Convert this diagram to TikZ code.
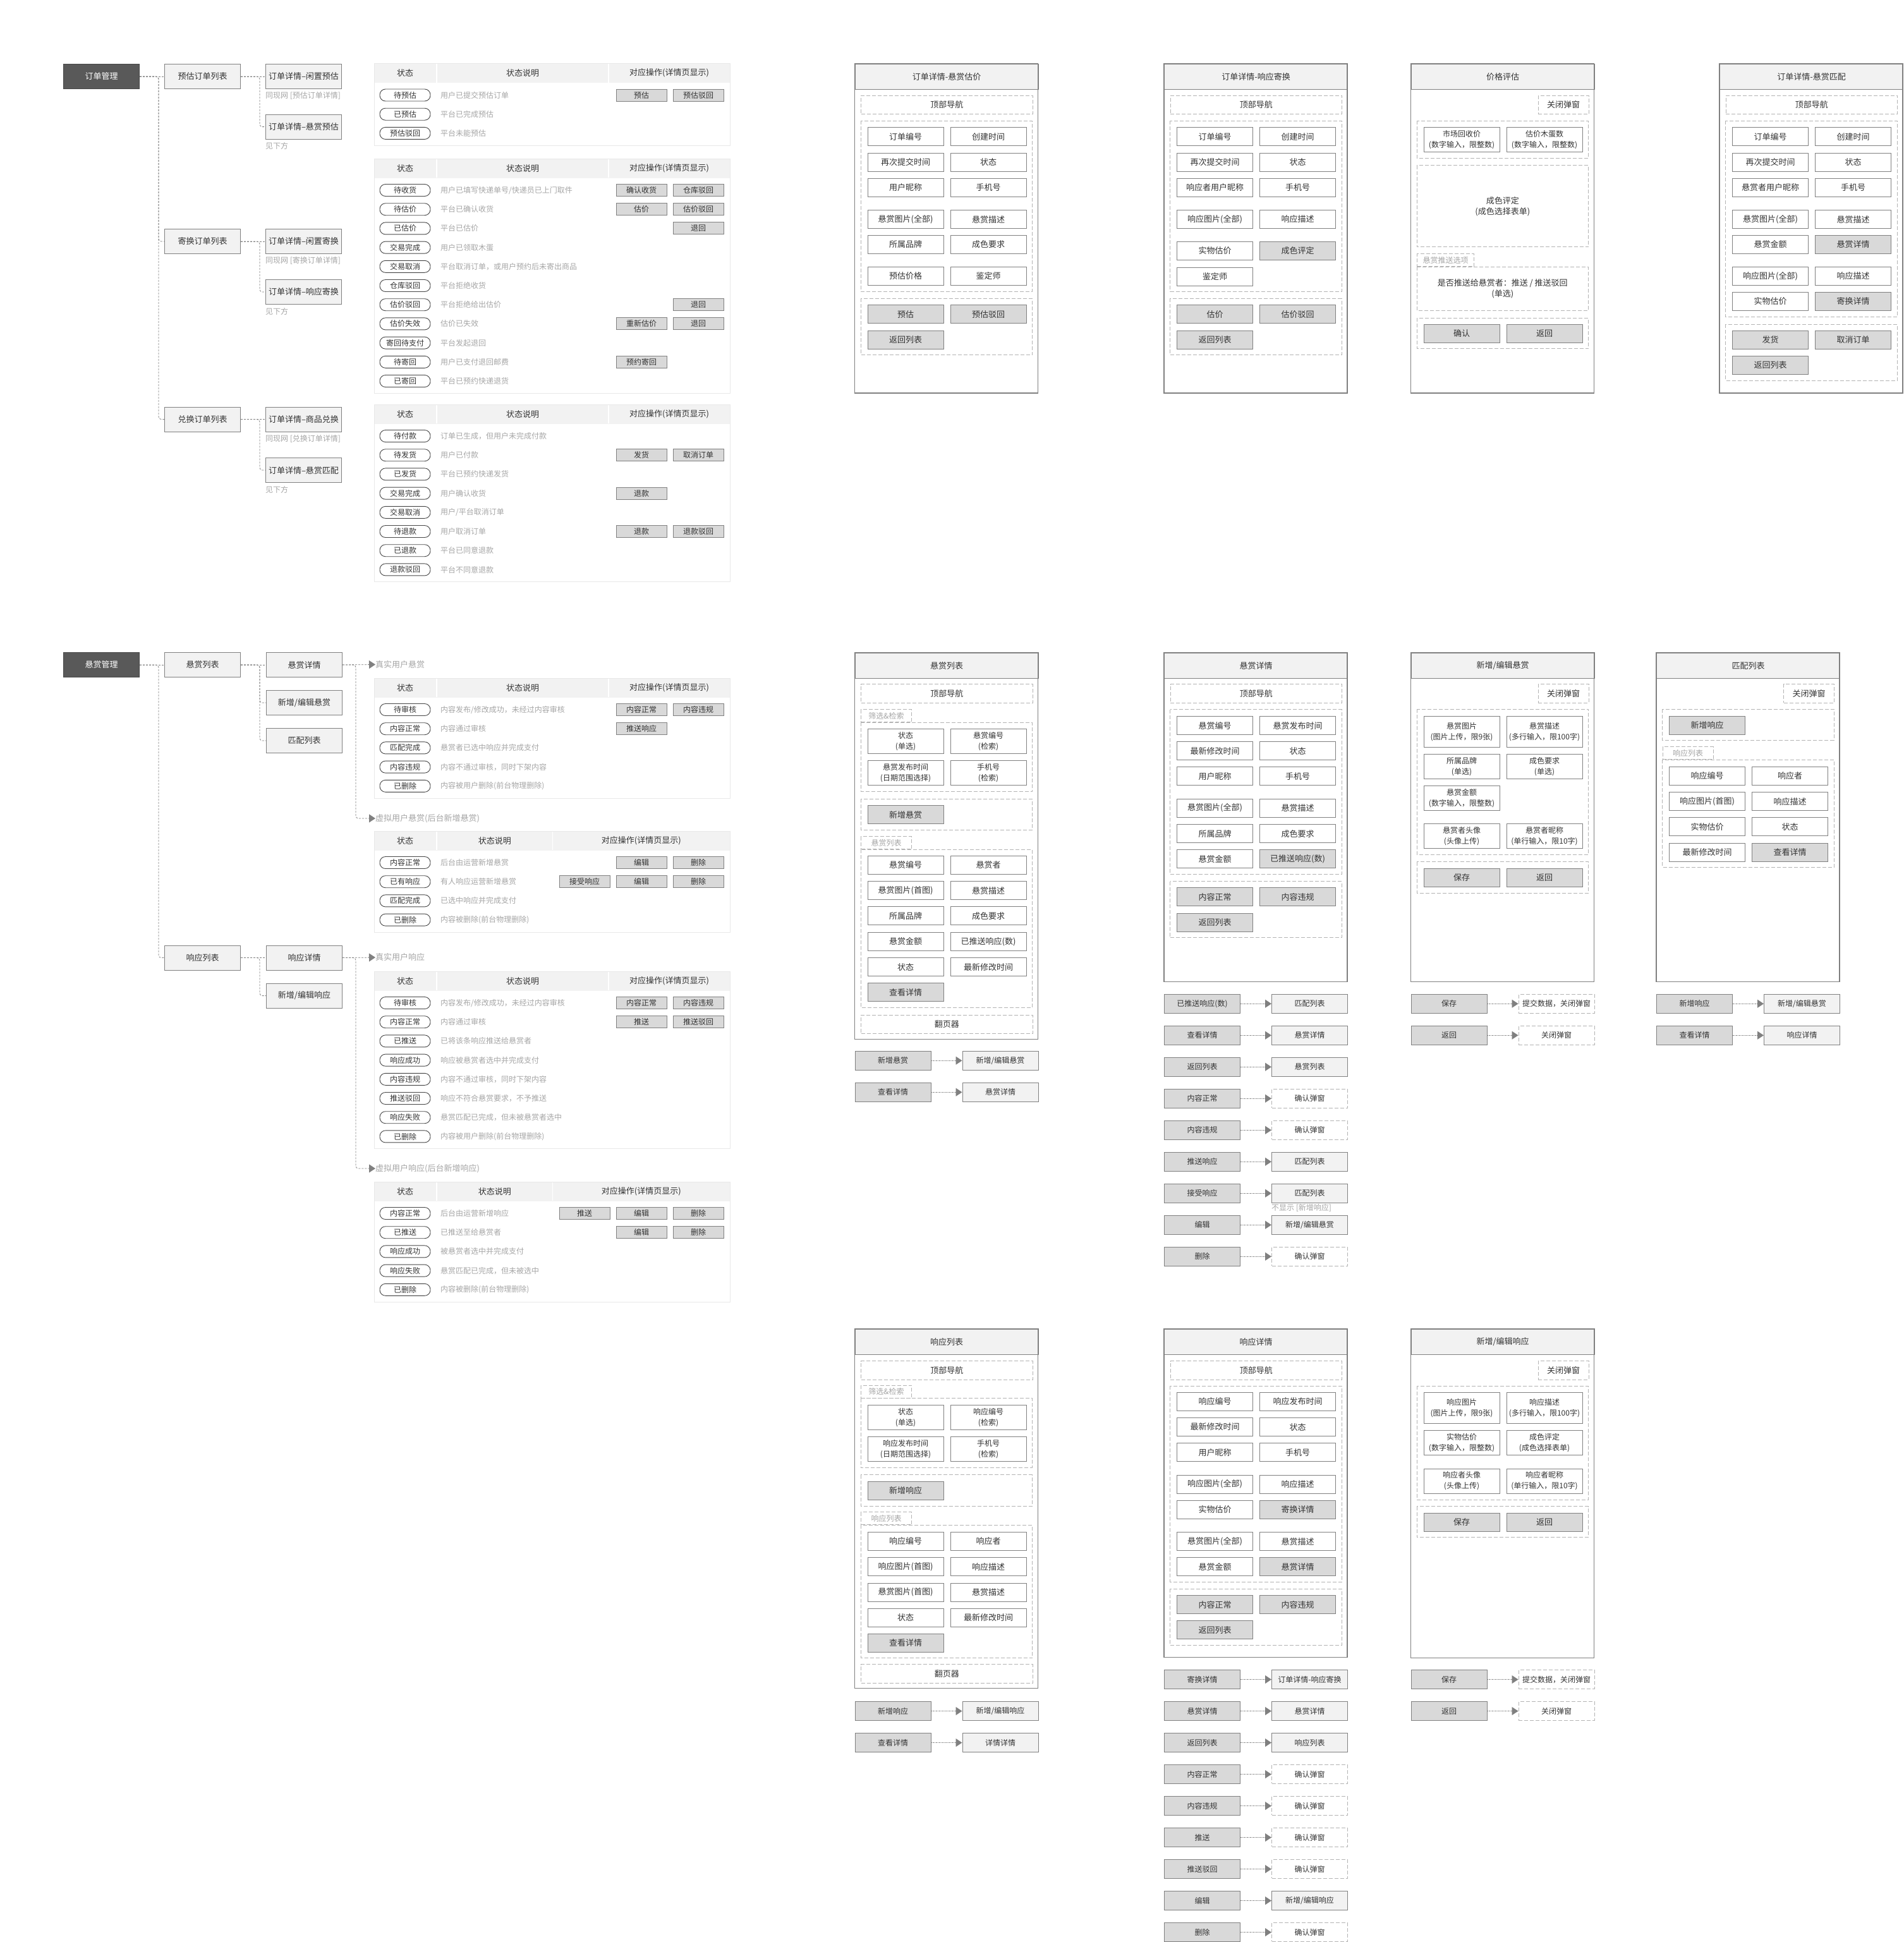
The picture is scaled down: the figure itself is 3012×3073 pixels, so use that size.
\documentclass[tikz,border=0pt]{standalone}
\usepackage{fontspec}
\setmainfont{Noto Sans CJK SC}
\usetikzlibrary{arrows.meta,positioning}

\definecolor{ink}{HTML}{333333}
\definecolor{edge}{HTML}{808080}
\definecolor{dashc}{HTML}{B3B3B3}
\definecolor{pale}{HTML}{F2F2F2}
\definecolor{btn}{HTML}{D9D9D9}
\definecolor{notec}{HTML}{A6A6A6}
\definecolor{dark}{HTML}{595959}
\definecolor{tline}{HTML}{E8E8E8}

\newcommand{\fbody}{\fontsize{13}{17}\selectfont}
\newcommand{\fsmall}{\fontsize{12}{17}\selectfont}

\tikzset{
  every node/.style={text=ink, font=\fbody},
  treebox/.style={draw=edge, line width=1pt, minimum width=120pt, minimum height=39pt, inner sep=0pt, anchor=north west},
  rootbox/.style={treebox, fill=dark, draw=dark!80!black, text=white},
  leafbox/.style={treebox, fill=pale},
  treelink/.style={draw=edge, line width=0.8pt, dash pattern=on 3pt off 2pt, rounded corners=4pt},
  triend/.style={-{Triangle[length=10pt,width=13pt]}},
  memo/.style={text=notec, anchor=west, inner sep=0pt, font=\fsmall},
  pill/.style={draw=ink!90, line width=0.9pt, rounded corners=9pt, fill=white, minimum width=80pt, minimum height=19pt, inner sep=0pt, font=\fsmall},
  actbtn/.style={draw=edge, fill=btn, line width=1pt, minimum width=80pt, minimum height=19pt, inner sep=0pt, font=\fsmall},
  tblframe/.style={draw=tline, line width=1pt},
  scrhead/.style={draw=edge, fill=pale, line width=1.2pt, minimum width=290pt, minimum height=40.5pt, inner sep=0pt, anchor=north west},
  scrframe/.style={draw=edge, line width=1.2pt},
  grpbox/.style={draw=dashc, line width=1pt, dash pattern=on 6pt off 3pt},
  navbox/.style={grpbox, minimum width=271.5pt, minimum height=29.5pt, inner sep=0pt, anchor=north west},
  closebox/.style={grpbox, minimum width=80pt, minimum height=29.5pt, inner sep=0pt, anchor=north west},
  tabbox/.style={grpbox, text=notec, minimum width=80pt, minimum height=20pt, inner sep=0pt, anchor=south west, font=\fsmall},
  fieldbox/.style={draw=edge, fill=white, line width=1pt, minimum width=120pt, minimum height=29pt, inner sep=0pt, anchor=north west, align=center},
  graybtn/.style={fieldbox, fill=btn},
  twoline/.style={fieldbox, minimum height=39pt, font=\fsmall},
  tgtbox/.style={fieldbox, fill=pale, minimum height=29.5pt, font=\fsmall},
  popbox/.style={fieldbox, grpbox, minimum height=29.5pt, font=\fsmall},
  srcbox/.style={graybtn, minimum height=29.5pt, font=\fsmall},
  goline/.style={draw=edge, line width=0.9pt, dash pattern=on 1.5pt off 1pt, triend},
}

\newcommand{\stbl}[5]{%
  \pgfmathsetmacro{\tblbot}{#2+50+30.2*(#4-1)+19.5}
  \path[fill=pale] (592,#2) rectangle (1155,{#2+30.5});
  \path[tblframe] (592,#2) rectangle (1155,\tblbot);
  \path[draw=white, line width=1.5pt] (691,{#2+0.5}) -- (691,{#2+30}) (#3,{#2+0.5}) -- (#3,{#2+30});
  \node (#1h1) at (641,{#2+15.25}) {状态};
  \node (#1h2) at ({(691+#3)/2},{#2+15.25}) {状态说明};
  \node (#1h3) at ({(#3+1155)/2},{#2+15.25}) {对应操作(详情页显示)};
  \foreach \stname/\stdesc [count=\i from 0] in {#5} {
    \node[pill] (#1s\i) at (641,{#2+50+30.2*\i}) {\stname};
    \node[memo] (#1d\i) at (697,{#2+50+30.2*\i}) {\stdesc};
  }
}

\begin{document}
\begin{tikzpicture}[x=1pt,y=-1pt]
\path[use as bounding box, fill=white] (0,0) rectangle (3012,3073);

\node[rootbox] (om) at (100,101) {订单管理};
\node[leafbox] (ol1) at (260,101) {预估订单列表};
\node[leafbox] (ol2) at (260,362) {寄换订单列表};
\node[leafbox] (ol3) at (260,643.5) {兑换订单列表};
\node[leafbox] (od1) at (420,101) {订单详情–闲置预估};
\node[leafbox] (od2) at (420,180.6) {订单详情–悬赏预估};
\node[leafbox] (od3) at (420,362) {订单详情–闲置寄换};
\node[leafbox] (od4) at (420,442) {订单详情–响应寄换};
\node[leafbox] (od5) at (420,643.5) {订单详情–商品兑换};
\node[leafbox] (od6) at (420,724) {订单详情–悬赏匹配};
\node[memo] (on1) at (420,151.5) {同现网 [预估订单详情]};
\node[memo] (on2) at (420,231) {见下方};
\node[memo] (on3) at (420,412) {同现网 [寄换订单详情]};
\node[memo] (on4) at (420,492.6) {见下方};
\node[memo] (on5) at (420,694) {同现网 [兑换订单详情]};
\node[memo] (on6) at (420,774.6) {见下方};

\path[treelink] (om.east) -- (ol1.west);
\path[treelink] (om.east) -- ++(30,0) |- (ol2.west);
\path[treelink] (om.east) -- ++(30,0) |- (ol3.west);
\foreach \pa/\ca/\cb in {ol1/od1/od2, ol2/od3/od4, ol3/od5/od6}
  {\path[treelink] (\pa.east) -- (\ca.west); \path[treelink] (\pa.east) -- ++(30,0) |- (\cb.west);}

\stbl{ta}{100.5}{963}{3}{待预估/用户已提交预估订单, 已预估/平台已完成预估, 预估驳回/平台未能预估}
\stbl{tb}{251}{963}{11}{待收货/{用户已填写快递单号/快递员已上门取件}, 待估价/平台已确认收货, 已估价/平台已估价, 交易完成/用户已领取木蛋, 交易取消/平台取消订单，或用户预约后未寄出商品, 仓库驳回/平台拒绝收货, 估价驳回/平台拒绝给出估价, 估价失效/估价已失效, 寄回待支付/平台发起退回, 待寄回/用户已支付退回邮费, 已寄回/平台已预约快递退货}
\stbl{tc}{640}{963}{8}{待付款/订单已生成，但用户未完成付款, 待发货/用户已付款, 已发货/平台已预约快递发货, 交易完成/用户确认收货, 交易取消/{用户/平台取消订单}, 待退款/用户取消订单, 已退款/平台已同意退款, 退款驳回/平台不同意退款}

\node[rootbox] (rm) at (100,1032) {悬赏管理};
\node[leafbox] (rl) at (260,1032) {悬赏列表};
\node[leafbox] (sl) at (260,1495.5) {响应列表};
\node[leafbox] (rd) at (421,1032) {悬赏详情};
\node[leafbox] (re) at (421,1092) {新增/编辑悬赏};
\node[leafbox] (rp) at (421,1152) {匹配列表};
\node[leafbox] (sd) at (421,1495.5) {响应详情};
\node[leafbox] (sn) at (421,1555.6) {新增/编辑响应};
\node[memo, font=\fbody] (rt1) at (594,1051.5) {真实用户悬赏};
\node[memo, font=\fbody] (rt2) at (594,1295) {虚拟用户悬赏(后台新增悬赏)};
\node[memo, font=\fbody] (st1) at (594,1515) {真实用户响应};
\node[memo, font=\fbody] (st2) at (594,1849) {虚拟用户响应(后台新增响应)};

\path[treelink] (rm.east) -- (rl.west);
\path[treelink] (rm.east) -- ++(30,0) |- (sl.west);
\path[treelink] (rl.east) -- (rd.west);
\path[treelink] (rl.east) -- ++(30,0) |- (re.west);
\path[treelink] (rl.east) -- ++(30,0) |- (rp.west);
\path[treelink] (sl.east) -- (sd.west);
\path[treelink] (sl.east) -- ++(30,0) |- (sn.west);
\path[treelink,triend] (rd.east) -- (rt1.west);
\path[treelink,triend] (rd.east) -- ++(21,0) |- (rt2.west);
\path[treelink,triend] (sd.east) -- (st1.west);
\path[treelink,triend] (sd.east) -- ++(21,0) |- (st2.west);

\stbl{td}{1073}{963}{5}{待审核/{内容发布/修改成功，未经过内容审核}, 内容正常/内容通过审核, 匹配完成/悬赏者已选中响应并完成支付, 内容违规/内容不通过审核，同时下架内容, 已删除/内容被用户删除(前台物理删除)}
\stbl{te}{1315}{874.5}{4}{内容正常/后台由运营新增悬赏, 已有响应/有人响应运营新增悬赏, 匹配完成/已选中响应并完成支付, 已删除/内容被删除(前台物理删除)}
\stbl{tf}{1537}{963}{8}{待审核/{内容发布/修改成功，未经过内容审核}, 内容正常/内容通过审核, 已推送/已将该条响应推送给悬赏者, 响应成功/响应被悬赏者选中并完成支付, 内容违规/内容不通过审核，同时下架内容, 推送驳回/响应不符合悬赏要求，不予推送, 响应失败/悬赏匹配已完成，但未被悬赏者选中, 已删除/内容被用户删除(前台物理删除)}
\stbl{tg}{1870}{874.5}{5}{内容正常/后台由运营新增响应, 已推送/已推送至给悬赏者, 响应成功/被悬赏者选中并完成支付, 响应失败/悬赏匹配已完成，但未被选中, 已删除/内容被删除(前台物理删除)}

\foreach \bx/\by/\bt [count=\i] in {1015/150.5/预估, 1105/150.5/预估驳回, 1015/301/确认收货, 1105/301/仓库驳回, 1015/331.2/估价, 1105/331.2/估价驳回, 1105/361.4/退回, 1105/482.2/退回, 1015/512.4/重新估价, 1105/512.4/退回, 1015/572.8/预约寄回, 1015/720.2/发货, 1105/720.2/取消订单, 1015/780.6/退款, 1015/841/退款, 1105/841/退款驳回, 1015/1123/内容正常, 1105/1123/内容违规, 1015/1153.2/推送响应, 1015/1365/编辑, 1105/1365/删除, 925/1395.2/接受响应, 1015/1395.2/编辑, 1105/1395.2/删除, 1015/1587/内容正常, 1105/1587/内容违规, 1015/1617.2/推送, 1105/1617.2/推送驳回, 925/1920/推送, 1015/1920/编辑, 1105/1920/删除, 1015/1950.2/编辑, 1105/1950.2/删除}
  {\node[actbtn] (ab\i) at (\bx,\by) {\bt};}

% pages, top row
\node[scrhead] (pa) at (1352.5,100.5) {订单详情-悬赏估价};
\path[scrframe] (pa.north west) rectangle ++(290,521.5);
\begin{scope}[shift={(pa.north west)}]
\node[navbox] (pa0) at (9.5,50) {顶部导航};
\path[grpbox] (9.5,90.5) rectangle (281,360.5);
\foreach \yy/\lab/\rab/\sty [count=\i] in {100.8/订单编号/创建时间/fieldbox, 141/再次提交时间/状态/fieldbox, 181.2/用户昵称/手机号/fieldbox, 231.5/悬赏图片(全部)/悬赏描述/fieldbox, 271.3/所属品牌/成色要求/fieldbox, 321.5/预估价格/鉴定师/fieldbox}
  {\node[fieldbox] (pal\i) at (20,\yy) {\lab}; \node[\sty] (par\i) at (151,\yy) {\rab};}
\path[grpbox] (9.5,371.8) rectangle (281,461.2);
\node[graybtn] (pab1) at (20,381.9) {预估};
\node[graybtn] (pab2) at (151,381.9) {预估驳回};
\node[graybtn] (pab3) at (20,422.1) {返回列表};
\end{scope}

\node[scrhead] (pb) at (1842,100.5) {订单详情-响应寄换};
\path[scrframe] (pb.north west) rectangle ++(290,521.5);
\begin{scope}[shift={(pb.north west)}]
\node[navbox] (pb0) at (9.5,50) {顶部导航};
\path[grpbox] (9.5,90.5) rectangle (281,360.5);
\foreach \yy/\lab/\rab/\sty [count=\i] in {100.8/订单编号/创建时间/fieldbox, 141/再次提交时间/状态/fieldbox, 181.2/响应者用户昵称/手机号/fieldbox, 231.5/响应图片(全部)/响应描述/fieldbox, 281.5/实物估价/成色评定/graybtn}
  {\node[fieldbox] (pbl\i) at (20,\yy) {\lab}; \node[\sty] (pbr\i) at (151,\yy) {\rab};}
\node[fieldbox] (pbl6) at (20,322) {鉴定师};
\path[grpbox] (9.5,371.8) rectangle (281,461.2);
\node[graybtn] (pbb1) at (20,381.9) {估价};
\node[graybtn] (pbb2) at (151,381.9) {估价驳回};
\node[graybtn] (pbb3) at (20,422.1) {返回列表};
\end{scope}

\node[scrhead] (pc) at (2232.5,100.5) {价格评估};
\path[scrframe] (pc.north west) rectangle ++(290,521.5);
\begin{scope}[shift={(pc.north west)}]
\node[closebox] (pc0) at (201,50) {关闭弹窗};
\path[grpbox] (9.5,90.5) rectangle (281,149.5);
\node[twoline] (pc1) at (20,100.8) {市场回收价\\(数字输入，限整数)};
\node[twoline] (pc2) at (151,100.8) {估价木蛋数\\(数字输入，限整数)};
\path[grpbox] (9.5,161) rectangle (281,290.3);
\node[align=center] (pc3) at (145.25,226) {成色评定\\(成色选择表单)};
\node[tabbox, minimum width=90pt] (pc4) at (9.5,321.5) {悬赏推送选项};
\path[grpbox] (9.5,321.5) rectangle (281,390.5);
\node[align=center] (pc5) at (145.25,356) {是否推送给悬赏者：推送 / 推送驳回\\(单选)};
\path[grpbox] (9.5,402.5) rectangle (281,451);
\node[graybtn] (pc6) at (20,412) {确认};
\node[graybtn] (pc7) at (151,412) {返回};
\end{scope}

\node[scrhead] (pd) at (2721,100.5) {订单详情-悬赏匹配};
\path[scrframe] (pd.north west) rectangle ++(290,521.5);
\begin{scope}[shift={(pd.north west)}]
\node[navbox] (pd0) at (9.5,50) {顶部导航};
\path[grpbox] (9.5,90.5) rectangle (281,401);
\foreach \yy/\lab/\rab/\sty [count=\i] in {100.8/订单编号/创建时间/fieldbox, 141/再次提交时间/状态/fieldbox, 181.2/悬赏者用户昵称/手机号/fieldbox, 231.5/悬赏图片(全部)/悬赏描述/fieldbox, 271.3/悬赏金额/悬赏详情/graybtn, 321.5/响应图片(全部)/响应描述/fieldbox, 361.5/实物估价/寄换详情/graybtn}
  {\node[fieldbox] (pdl\i) at (20,\yy) {\lab}; \node[\sty] (pdr\i) at (151,\yy) {\rab};}
\path[grpbox] (9.5,412.5) rectangle (281,501.5);
\node[graybtn] (pdb1) at (20,422.1) {发货};
\node[graybtn] (pdb2) at (151,422.1) {取消订单};
\node[graybtn] (pdb3) at (20,462.3) {返回列表};
\end{scope}

% pages, middle row
\node[scrhead] (pe) at (1352.5,1032.3) {悬赏列表};
\path[scrframe] (pe.north west) rectangle ++(290,612);
\begin{scope}[shift={(pe.north west)}]
\node[navbox] (pe0) at (9.5,50) {顶部导航};
\node[tabbox] (pe1) at (9.5,111) {筛选\&检索};
\path[grpbox] (9.5,111) rectangle (281,220.4);
\node[twoline] (pe2) at (20,120.8) {状态\\(单选)};
\node[twoline] (pe3) at (151,120.8) {悬赏编号\\(检索)};
\node[twoline] (pe4) at (20,171) {悬赏发布时间\\(日期范围选择)};
\node[twoline] (pe5) at (151,171) {手机号\\(检索)};
\path[grpbox] (9.5,231.8) rectangle (281,281);
\node[graybtn] (pe6) at (20,241.8) {新增悬赏};
\node[tabbox] (pe7) at (9.5,312) {悬赏列表};
\path[grpbox] (9.5,312) rectangle (281,562);
\foreach \yy/\lab/\rab [count=\i] in {321.5/悬赏编号/悬赏者, 361.8/悬赏图片(首图)/悬赏描述, 402/所属品牌/成色要求, 442.5/悬赏金额/已推送响应(数), 482.8/状态/最新修改时间}
  {\node[fieldbox] (pel\i) at (20,\yy) {\lab}; \node[fieldbox] (per\i) at (151,\yy) {\rab};}
\node[graybtn] (pe8) at (20,523) {查看详情};
\node[navbox] (pe9) at (9.5,573.4) {翻页器};
\end{scope}

\node[scrhead] (pf) at (1842,1032.3) {悬赏详情};
\path[scrframe] (pf.north west) rectangle ++(290,521.5);
\begin{scope}[shift={(pf.north west)}]
\node[navbox] (pf0) at (9.5,50) {顶部导航};
\path[grpbox] (9.5,90.5) rectangle (281,351.4);
\foreach \yy/\lab/\rab/\sty [count=\i] in {101/悬赏编号/悬赏发布时间/fieldbox, 140.8/最新修改时间/状态/fieldbox, 181/用户昵称/手机号/fieldbox, 231.4/悬赏图片(全部)/悬赏描述/fieldbox, 272/所属品牌/成色要求/fieldbox, 312/悬赏金额/已推送响应(数)/graybtn}
  {\node[fieldbox] (pfl\i) at (20,\yy) {\lab}; \node[\sty] (pfr\i) at (151,\yy) {\rab};}
\path[grpbox] (9.5,362.3) rectangle (281,451.5);
\node[graybtn] (pfb1) at (20,372) {内容正常};
\node[graybtn] (pfb2) at (151,372) {内容违规};
\node[graybtn] (pfb3) at (20,412.6) {返回列表};
\end{scope}

\node[scrhead] (pg) at (2232.5,1032.3) {新增/编辑悬赏};
\path[scrframe] (pg.north west) rectangle ++(290,521);
\begin{scope}[shift={(pg.north west)}]
\node[closebox] (pg0) at (201,50) {关闭弹窗};
\path[grpbox] (9.5,90) rectangle (281,320.3);
\node[twoline, minimum height=49pt] (pg1) at (20,100.3) {悬赏图片\\(图片上传，限9张)};
\node[twoline, minimum height=49pt] (pg2) at (151,100.3) {悬赏描述\\(多行输入，限100字)};
\node[twoline] (pg3) at (20,160.7) {所属品牌\\(单选)};
\node[twoline] (pg4) at (151,160.7) {成色要求\\(单选)};
\node[twoline] (pg5) at (20,210.7) {悬赏金额\\(数字输入，限整数)};
\node[twoline] (pg6) at (20,271.1) {悬赏者头像\\(头像上传)};
\node[twoline] (pg7) at (151,271.1) {悬赏者昵称\\(单行输入，限10字)};
\path[grpbox] (9.5,331.3) rectangle (281,380.7);
\node[graybtn] (pg8) at (20,341.3) {保存};
\node[graybtn] (pg9) at (151,341.3) {返回};
\end{scope}

\node[scrhead] (ph) at (2621,1032.3) {匹配列表};
\path[scrframe] (ph.north west) rectangle ++(290,521);
\begin{scope}[shift={(ph.north west)}]
\node[closebox] (ph0) at (201,50) {关闭弹窗};
\path[grpbox] (9.5,90) rectangle (281,139.2);
\node[graybtn] (ph1) at (20,100.3) {新增响应};
\node[tabbox] (ph2) at (9.5,170) {响应列表};
\path[grpbox] (9.5,170) rectangle (281,340);
\foreach \yy/\lab/\rab/\sty [count=\i] in {180.6/响应编号/响应者/fieldbox, 220.8/响应图片(首图)/响应描述/fieldbox, 261/实物估价/状态/fieldbox, 301.3/最新修改时间/查看详情/graybtn}
  {\node[fieldbox] (phl\i) at (20,\yy) {\lab}; \node[\sty] (phr\i) at (151,\yy) {\rab};}
\end{scope}

% pages, bottom row
\node[scrhead] (pi) at (1352.5,2102.3) {响应列表};
\path[scrframe] (pi.north west) rectangle ++(290,569);
\begin{scope}[shift={(pi.north west)}]
\node[navbox] (pi0) at (9.5,50.7) {顶部导航};
\node[tabbox] (pi1) at (9.5,110.4) {筛选\&检索};
\path[grpbox] (9.5,110.4) rectangle (281,220);
\node[twoline] (pi2) at (20,120.4) {状态\\(单选)};
\node[twoline] (pi3) at (151,120.4) {响应编号\\(检索)};
\node[twoline] (pi4) at (20,170.7) {响应发布时间\\(日期范围选择)};
\node[twoline] (pi5) at (151,170.7) {手机号\\(检索)};
\path[grpbox] (9.5,231.6) rectangle (281,280.7);
\node[graybtn] (pi6) at (20,241.2) {新增响应};
\node[tabbox] (pi7) at (9.5,311.1) {响应列表};
\path[grpbox] (9.5,311.1) rectangle (281,521.5);
\foreach \yy/\lab/\rab [count=\i] in {321.5/响应编号/响应者, 362/响应图片(首图)/响应描述, 402.2/悬赏图片(首图)/悬赏描述, 442.3/状态/最新修改时间}
  {\node[fieldbox] (pil\i) at (20,\yy) {\lab}; \node[fieldbox] (pir\i) at (151,\yy) {\rab};}
\node[graybtn] (pi8) at (20,482.5) {查看详情};
\node[navbox] (pi9) at (9.5,531) {翻页器};
\end{scope}

\node[scrhead] (pj) at (1842,2102.3) {响应详情};
\path[scrframe] (pj.north west) rectangle ++(290,520);
\begin{scope}[shift={(pj.north west)}]
\node[navbox] (pj0) at (9.5,50.7) {顶部导航};
\path[grpbox] (9.5,90.7) rectangle (281,400.7);
\foreach \yy/\lab/\rab/\sty [count=\i] in {100.7/响应编号/响应发布时间/fieldbox, 140.7/最新修改时间/状态/fieldbox, 181/用户昵称/手机号/fieldbox, 231.2/响应图片(全部)/响应描述/fieldbox, 271.3/实物估价/寄换详情/graybtn, 321.9/悬赏图片(全部)/悬赏描述/fieldbox, 362/悬赏金额/悬赏详情/graybtn}
  {\node[fieldbox] (pjl\i) at (20,\yy) {\lab}; \node[\sty] (pjr\i) at (151,\yy) {\rab};}
\path[grpbox] (9.5,411.7) rectangle (281,501.4);
\node[graybtn] (pjb1) at (20,421.9) {内容正常};
\node[graybtn] (pjb2) at (151,421.9) {内容违规};
\node[graybtn] (pjb3) at (20,462.1) {返回列表};
\end{scope}

\node[scrhead] (pk) at (2232.5,2102.3) {新增/编辑响应};
\path[scrframe] (pk.north west) rectangle ++(290,521.5);
\begin{scope}[shift={(pk.north west)}]
\node[closebox] (pk0) at (201,50.7) {关闭弹窗};
\path[grpbox] (9.5,90.7) rectangle (281,270.7);
\node[twoline, minimum height=49pt] (pk1) at (20,100.7) {响应图片\\(图片上传，限9张)};
\node[twoline, minimum height=49pt] (pk2) at (151,100.7) {响应描述\\(多行输入，限100字)};
\node[twoline] (pk3) at (20,160.9) {实物估价\\(数字输入，限整数)};
\node[twoline] (pk4) at (151,160.9) {成色评定\\(成色选择表单)};
\node[twoline] (pk5) at (20,221.2) {响应者头像\\(头像上传)};
\node[twoline] (pk6) at (151,221.2) {响应者昵称\\(单行输入，限10字)};
\path[grpbox] (9.5,281.4) rectangle (281,330.5);
\node[graybtn] (pk7) at (20,291.4) {保存};
\node[graybtn] (pk8) at (151,291.4) {返回};
\end{scope}

% jumps
\foreach \yy/\lab/\rab/\sty [count=\i] in {1663/新增悬赏/{新增/编辑悬赏}/tgtbox, 1713/查看详情/悬赏详情/tgtbox}
  {\node[srcbox] (ea\i) at (1352.5,\yy) {\lab}; \node[\sty] (eb\i) at (1522.5,\yy) {\rab}; \path[goline] (ea\i) -- (eb\i);}
\foreach \yy/\lab/\rab/\sty [count=\i] in {1573/已推送响应(数)/匹配列表/tgtbox, 1623/查看详情/悬赏详情/tgtbox, 1673/返回列表/悬赏列表/tgtbox, 1723/内容正常/确认弹窗/popbox, 1773/内容违规/确认弹窗/popbox, 1823/推送响应/匹配列表/tgtbox, 1873/接受响应/匹配列表/tgtbox, 1923/编辑/{新增/编辑悬赏}/tgtbox, 1973/删除/确认弹窗/popbox}
  {\node[srcbox] (fa\i) at (1842,\yy) {\lab}; \node[\sty] (fb\i) at (2012,\yy) {\rab}; \path[goline] (fa\i) -- (fb\i);}
\node[memo] (fnote) at (2012,1911) {不显示 [新增响应]};
\foreach \yy/\lab/\rab/\sty [count=\i] in {1573/保存/提交数据，关闭弹窗/popbox, 1623/返回/关闭弹窗/popbox}
  {\node[srcbox] (ga\i) at (2232.5,\yy) {\lab}; \node[\sty] (gb\i) at (2402.5,\yy) {\rab}; \path[goline] (ga\i) -- (gb\i);}
\foreach \yy/\lab/\rab/\sty [count=\i] in {1573/新增响应/{新增/编辑悬赏}/tgtbox, 1623/查看详情/响应详情/tgtbox}
  {\node[srcbox] (ha\i) at (2621,\yy) {\lab}; \node[\sty] (hb\i) at (2791,\yy) {\rab}; \path[goline] (ha\i) -- (hb\i);}
\foreach \yy/\lab/\rab/\sty [count=\i] in {2692.3/新增响应/{新增/编辑响应}/tgtbox, 2742.3/查看详情/详情详情/tgtbox}
  {\node[srcbox] (ia\i) at (1352.5,\yy) {\lab}; \node[\sty] (ib\i) at (1522.5,\yy) {\rab}; \path[goline] (ia\i) -- (ib\i);}
\foreach \yy/\lab/\rab/\sty [count=\i] in {2642.3/寄换详情/订单详情-响应寄换/tgtbox, 2692.3/悬赏详情/悬赏详情/tgtbox, 2742.3/返回列表/响应列表/tgtbox, 2792.3/内容正常/确认弹窗/popbox, 2842.3/内容违规/确认弹窗/popbox, 2892.3/推送/确认弹窗/popbox, 2942.3/推送驳回/确认弹窗/popbox, 2992.3/编辑/{新增/编辑响应}/tgtbox, 3042.3/删除/确认弹窗/popbox}
  {\node[srcbox] (ja\i) at (1842,\yy) {\lab}; \node[\sty] (jb\i) at (2012,\yy) {\rab}; \path[goline] (ja\i) -- (jb\i);}
\foreach \yy/\lab/\rab/\sty [count=\i] in {2642.3/保存/提交数据，关闭弹窗/popbox, 2692.3/返回/关闭弹窗/popbox}
  {\node[srcbox] (ka\i) at (2232.5,\yy) {\lab}; \node[\sty] (kb\i) at (2402.5,\yy) {\rab}; \path[goline] (ka\i) -- (kb\i);}
\end{tikzpicture}
\end{document}
